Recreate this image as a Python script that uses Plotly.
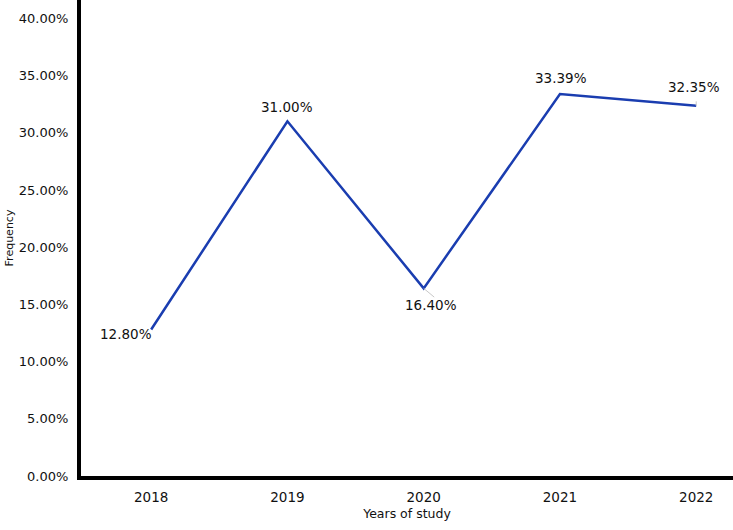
import plotly.graph_objects as go

years = ["2018", "2019", "2020", "2021", "2022"]
freq = [12.80, 31.00, 16.40, 33.39, 32.35]
y_ticks = [0, 5, 10, 15, 20, 25, 30, 35, 40]
y_tick_text = [f"{v:.2f}%" for v in y_ticks]
label_text = [f"{v:.2f}%" for v in freq]
label_dx = [-25, 0, 7, 1, -2]
label_dy = [-4, 14, -17, 16, 19]

FONT = "DejaVu Sans"

fig = go.Figure()
fig.add_trace(go.Scatter(
    x=list(range(len(years))), y=freq, mode="lines",
    line=dict(color="#1a3db0", width=2.5), hoverinfo="skip", showlegend=False))

# leader line for 2020
fig.add_annotation(x=2, y=freq[2], ax=12, ay=10, axref="pixel", ayref="pixel",
                   text="", showarrow=True, arrowhead=0, arrowwidth=1,
                   arrowcolor="#c8c8c8")
# leader tick for 2022
fig.add_annotation(x=4, y=freq[4], ax=0, ay=-6, axref="pixel", ayref="pixel",
                   text="", showarrow=True, arrowhead=0, arrowwidth=1,
                   arrowcolor="#c8c8c8")

for i, t in enumerate(label_text):
    fig.add_annotation(x=i, y=freq[i], text=t, showarrow=False,
                       xshift=label_dx[i], yshift=label_dy[i],
                       font=dict(family=FONT, size=13.5, color="#111111"))

fig.update_layout(
    width=733, height=530,
    margin=dict(l=81, r=0, t=0, b=54),
    paper_bgcolor="white", plot_bgcolor="white",
    font=dict(family=FONT, color="#111111"),
    xaxis=dict(range=[-0.515, 4.27], tickmode="array",
               tickvals=list(range(len(years))), ticktext=years,
               showline=True, linecolor="black", linewidth=4,
               showgrid=False, zeroline=False, ticks="",
               automargin=False, ticklabelstandoff=6,
               tickfont=dict(family=FONT, size=13.5, color="#111111"),
               title=dict(text="Years of study", standoff=6,
                          font=dict(family=FONT, size=12.5, color="#111111"))),
    yaxis=dict(range=[0, 41.6], tickmode="array", tickvals=y_ticks,
               ticktext=y_tick_text,
               showline=True, linecolor="black", linewidth=4,
               showgrid=False, zeroline=False, ticks="",
               automargin=False, ticklabelstandoff=6,
               tickfont=dict(family=FONT, size=13, color="#111111"),
               title=dict(text="Frequency", standoff=4,
                          font=dict(family=FONT, size=11, color="#111111"))),
)

fig.write_html("out.html", config={"displayModeBar": False},
               post_script="document.body.style.margin='0';")
